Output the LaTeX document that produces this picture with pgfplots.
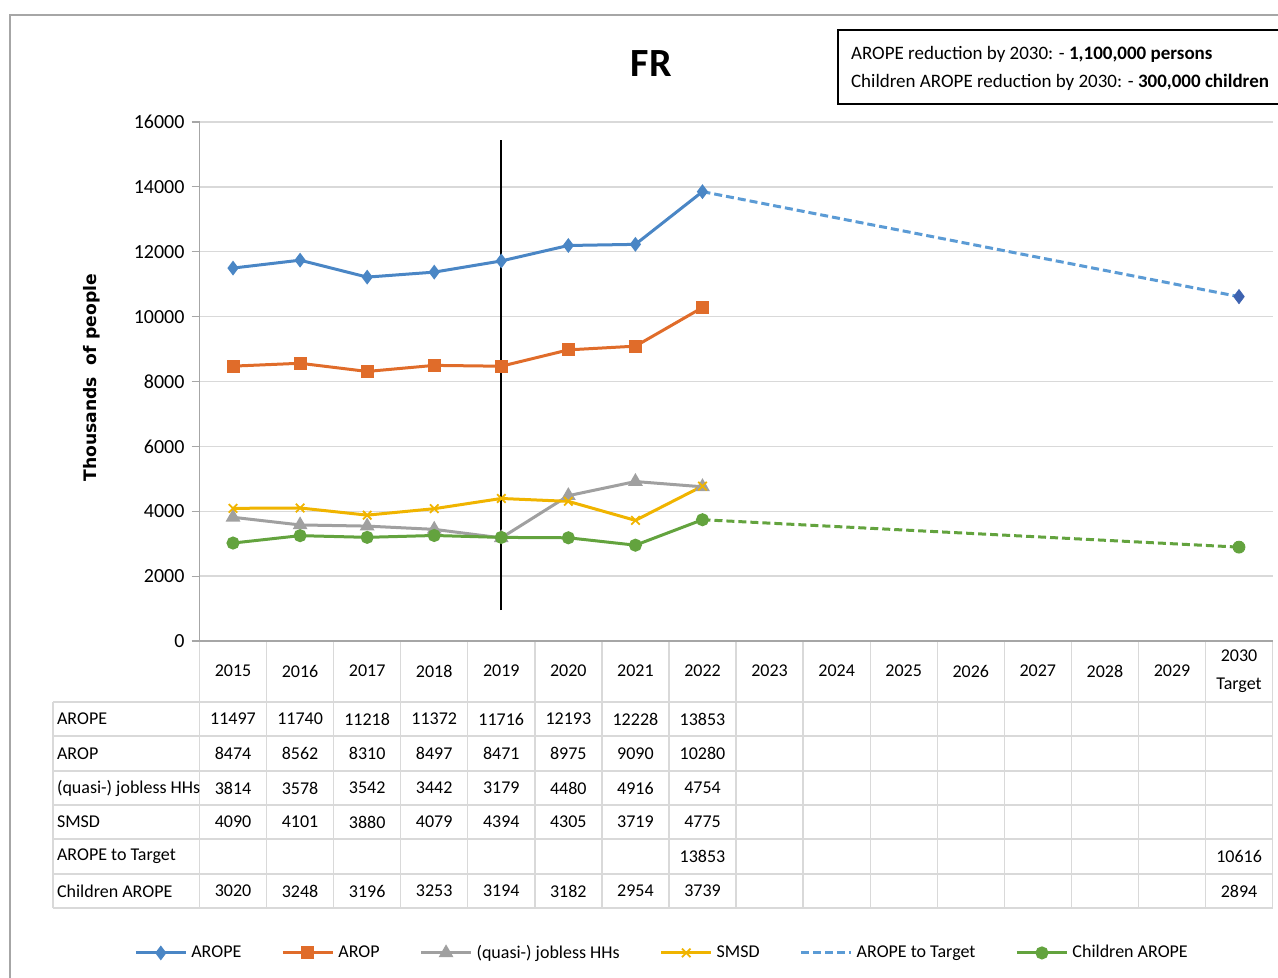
\documentclass[border=0pt]{standalone}
\usepackage{pgfplots}
\pgfplotsset{compat=1.18}
\usepackage{fontspec}
\setmainfont{Carlito}
\newfontfamily\labfont{DejaVu Sans}

\definecolor{arope}{HTML}{4A86C5}
\definecolor{aropetgt}{HTML}{5B9BD5}
\definecolor{tgtmark}{HTML}{3D62B0}
\definecolor{arop}{HTML}{E06C2A}
\definecolor{jobless}{HTML}{A0A0A0}
\definecolor{smsd}{HTML}{F0B400}
\definecolor{child}{HTML}{63A33E}
\definecolor{cellgray}{HTML}{D9D9D9}

% px -> table column centre
\newcommand{\cell}[3]{\node at ({233+67.07*#1},#2) {#3};}

\begin{document}
\begin{tikzpicture}
% page frame, px coordinates (y downwards)
\begin{scope}[x=0.5pt,y=-0.5pt]
  \draw[gray!70, line width=0.6pt] (10,978) -- (10,15) -- (1278,15);
\end{scope}

\begin{axis}[
  scale only axis,
  width=536.5pt, height=259.5pt,
  at={(99.75pt,-320.5pt)}, anchor=south west,
  xmin=-0.5, xmax=15.5,
  ymin=0, ymax=16000,
  xtick=\empty,
  ytick={0,2000,...,16000},
  scaled y ticks=false,
  axis lines=left,
  axis line style={-, draw=gray!70, line width=0.6pt},
  y tick style={draw=gray!70, line width=0.6pt},
  tick align=outside,
  major tick length=4pt,
  ymajorgrids,
  grid style={draw=cellgray, line width=0.7pt},
  clip=false,
  tick label style={font=\fontsize{10}{12}\selectfont},
  /pgf/number format/.cd, set thousands separator={}, assume math mode=true,
  /pgfplots/.cd,
  ylabel={\labfont\bfseries Thousands\ \ of people},
  ylabel style={at={(axis description cs:-0.100,0.507)}, anchor=center,
    font=\fontsize{8.6}{10}\selectfont},
  title={\bfseries FR},
  title style={at={(axis description cs:0.421,1.090)}, anchor=center,
    font=\fontsize{20}{24}\selectfont},
  legend columns=6,
  legend style={at={(axis description cs:0.432,-0.601)}, anchor=center,
    draw=none, font=\fontsize{9}{11}\selectfont,
    /tikz/every even column/.append style={column sep=18pt}},
  legend image code/.code={
    \draw[mark repeat=2,mark phase=2,#1]
      plot coordinates {(0pt,0pt) (12.5pt,0pt) (25pt,0pt)};},
]
\addplot[arope, line width=1.5pt, mark=diamond*, mark size=2.5pt] coordinates {
  (0,11497) (1,11740) (2,11218) (3,11372) (4,11716) (5,12193) (6,12228) (7,13853)
};
\addlegendentry{AROPE}
\addplot[arop, line width=1.5pt, mark=square*, mark size=2.5pt] coordinates {
  (0,8474) (1,8562) (2,8310) (3,8497) (4,8471) (5,8975) (6,9090) (7,10280)
};
\addlegendentry{AROP}
\addplot[jobless, line width=1.5pt, mark=triangle*, mark size=2.8pt] coordinates {
  (0,3814) (1,3578) (2,3542) (3,3442) (4,3179) (5,4480) (6,4916) (7,4754)
};
\addlegendentry{(quasi-) jobless HHs}
\addplot[smsd, line width=1.5pt, mark=x, mark size=3pt,
  mark options={line width=0.9pt}] coordinates {
  (0,4090) (1,4101) (2,3880) (3,4079) (4,4394) (5,4305) (6,3719) (7,4775)
};
\addlegendentry{SMSD}
\addplot[aropetgt, line width=1.5pt, dash pattern=on 4pt off 2pt] coordinates {
  (7,13853) (15,10616)
};
\addlegendentry{AROPE to Target}
\addplot[child, line width=1.5pt, mark=*, mark size=2.5pt] coordinates {
  (0,3020) (1,3248) (2,3196) (3,3253) (4,3194) (5,3182) (6,2954) (7,3739)
};
\addlegendentry{Children AROPE}
% children trajectory to target and 2030 target markers
\addplot[child, line width=1.5pt, dash pattern=on 4pt off 2pt, forget plot] coordinates {
  (7,3739) (15,2894)
};
\addplot[only marks, tgtmark, mark=diamond*, mark size=3.5pt, forget plot] coordinates {
  (15,10616)
};
\addplot[only marks, child, mark=*, mark size=3pt, forget plot] coordinates {
  (15,2894)
};
% 2019 marker line
\addplot[black, line width=0.8pt, forget plot] coordinates {(4,950) (4,15450)};
\end{axis}

% data table and text box, px coordinates
\begin{scope}[x=0.5pt,y=-0.5pt, font=\fontsize{9}{11}\selectfont]
  \foreach \y in {702,736,771,805,839,874,908}
    {\draw[cellgray, line width=0.7pt] (53,\y) -- (1272.5,\y);}
  \foreach \k in {0,...,16}
    {\draw[cellgray, line width=0.7pt] ({199.5+67.07*\k},642) -- ({199.5+67.07*\k},908);}
  \draw[cellgray, line width=0.7pt] (53,702) -- (53,908);

  \foreach \t [count=\i from 0] in {2015,2016,2017,2018,2019,2020,2021,2022,2023,2024,2025,2026,2027,2028,2029}
    {\cell{\i}{671}{\t}}
  \node[align=center, font=\fontsize{9}{14}\selectfont] at ({233+67.07*15},671) {2030\\Target};

  \node[anchor=west] at (50,719) {AROPE};
  \node[anchor=west] at (50,753.5) {AROP};
  \node[anchor=west] at (50,788) {(quasi-) jobless HHs};
  \node[anchor=west] at (50,822) {SMSD};
  \node[anchor=west] at (50,856.5) {AROPE to Target};
  \node[anchor=west] at (50,891) {Children AROPE};

  \foreach \v [count=\i from 0] in {11497,11740,11218,11372,11716,12193,12228,13853}
    {\cell{\i}{719}{\v}}
  \foreach \v [count=\i from 0] in {8474,8562,8310,8497,8471,8975,9090,10280}
    {\cell{\i}{753.5}{\v}}
  \foreach \v [count=\i from 0] in {3814,3578,3542,3442,3179,4480,4916,4754}
    {\cell{\i}{788}{\v}}
  \foreach \v [count=\i from 0] in {4090,4101,3880,4079,4394,4305,3719,4775}
    {\cell{\i}{822}{\v}}
  \cell{7}{856.5}{13853}
  \cell{15}{856.5}{10616}
  \foreach \v [count=\i from 0] in {3020,3248,3196,3253,3194,3182,2954,3739}
    {\cell{\i}{891}{\v}}
  \cell{15}{891}{2894}

  \draw[black, line width=0.8pt] (838,30) rectangle (1300,104);
  \node[anchor=west, font=\fontsize{9.5}{11}\selectfont] at (844,54)
    {AROPE reduction by 2030: - \textbf{1,100,000 persons}};
  \node[anchor=west, font=\fontsize{9.5}{11}\selectfont] at (844,82)
    {Children AROPE reduction by 2030: - \textbf{300,000 children}};
\end{scope}

% fix the page to the reference frame
\pgfresetboundingbox
\useasboundingbox (0pt,0pt) rectangle (639pt,-489pt);
\end{tikzpicture}
\end{document}
